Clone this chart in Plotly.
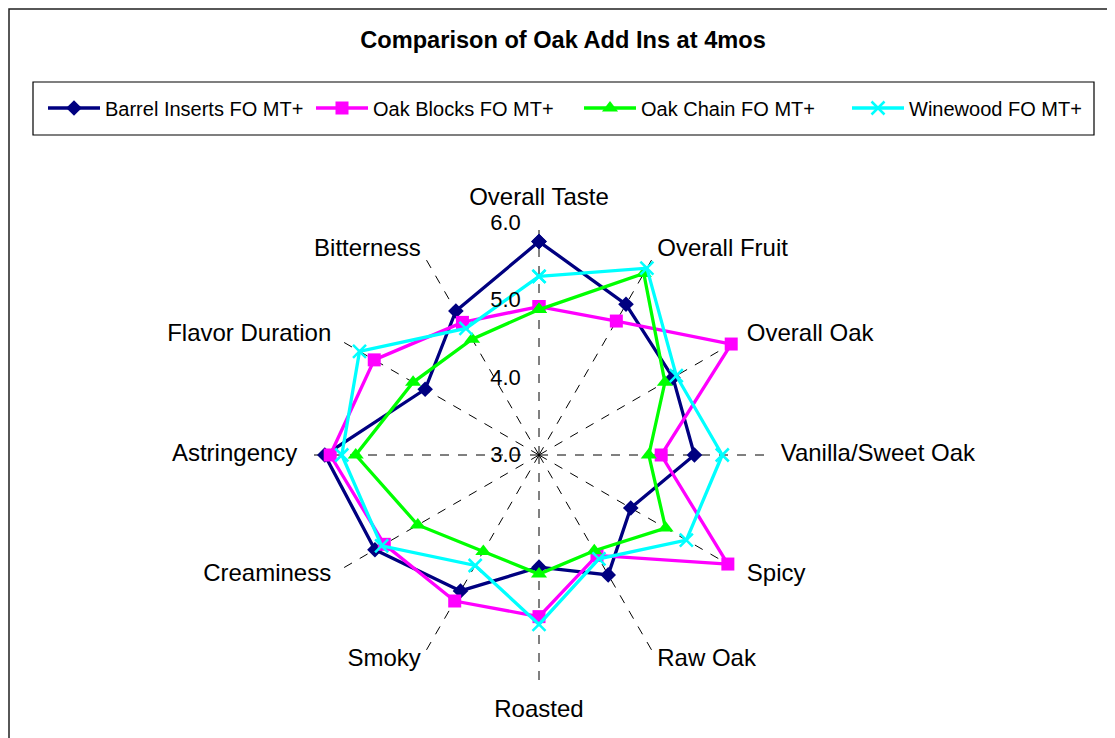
import math
import plotly.graph_objects as go

categories = ["Overall Taste", "Overall Fruit", "Overall Oak", "Vanilla/Sweet Oak",
              "Spicy", "Raw Oak", "Roasted", "Smoky", "Creaminess",
              "Astringency", "Flavor Duration", "Bitterness"]

barrel_inserts = [5.76, 5.25, 5.00, 5.01, 4.37, 4.79, 4.45, 5.03, 5.45, 5.77, 4.70, 5.15]
oak_blocks     = [4.92, 5.00, 5.87, 4.58, 5.82, 4.50, 5.09, 5.18, 5.31, 5.70, 5.46, 4.98]
oak_chain      = [4.88, 5.71, 4.88, 4.42, 4.89, 4.43, 4.54, 4.44, 4.81, 5.37, 4.88, 4.73]
winewood       = [5.31, 5.79, 5.05, 5.37, 5.20, 4.55, 5.19, 4.65, 5.35, 5.55, 5.68, 4.89]

series_names = ["Barrel Inserts FO MT+", "Oak Blocks FO MT+", "Oak Chain FO MT+", "Winewood FO MT+"]
radial_ticks = [3.0, 4.0, 5.0, 6.0]
radial_ticktext = ["3.0", "4.0", "5.0", "6.0"]

# the page body adds an 8px margin, so the figure is sized/positioned to compensate
OFF = 8
W, H = 1115 - OFF, 738 - OFF
FONT = "Arial, Liberation Sans, sans-serif"

styles = [
    dict(color="#000080", symbol="diamond", size=12, mline=0),
    dict(color="#FF00FF", symbol="square", size=13, mline=0),
    dict(color="#00FF00", symbol="triangle-up", size=14, mline=0),
    dict(color="#00FFFF", symbol="x-thin", size=13, mline=2.5),
]

fig = go.Figure()
for name, vals, st in zip(series_names, [barrel_inserts, oak_blocks, oak_chain, winewood], styles):
    fig.add_trace(go.Scatterpolar(
        r=vals + vals[:1],
        theta=categories + categories[:1],
        mode="lines+markers",
        name=name,
        subplot="polar",
        line=dict(color=st["color"], width=3.3),
        marker=dict(symbol=st["symbol"], size=st["size"], color=st["color"],
                    line=dict(color=st["color"], width=st["mline"])),
    ))

# category labels, placed just outside the outer ring like Excel does
# (drawn on a transparent overlay polar whose range reaches a bit past 6.0)
R_MAX, R_LABEL_OUT = 6.0, 6.15
n = len(categories)
label_pos, label_r = [], []
for i in range(n):
    a = 2 * math.pi * i / n
    s, c = math.sin(a), math.cos(a)
    if abs(s) < 1e-6:
        label_pos.append("top center" if c > 0 else "bottom center")
        label_r.append(6.15)
    else:
        label_pos.append("middle right" if s > 0 else "middle left")
        label_r.append(6.035 + 0.09 * s * s)

fig.add_trace(go.Scatterpolar(
    r=label_r, theta=categories, mode="text", text=categories, subplot="polar2",
    textposition=label_pos, cliponaxis=False, showlegend=False, hoverinfo="skip",
    textfont=dict(size=24, family=FONT, color="black"),
))

def px(x):
    return (x - OFF) / W

def py(y):
    return 1 - (y - OFF) / H

cx, cy, R = 539, 455, 232
R2 = R * (R_LABEL_OUT - 3) / (R_MAX - 3)
fig.update_layout(
    width=W, height=H,
    margin=dict(l=0, r=0, t=0, b=0),
    paper_bgcolor="white",
    plot_bgcolor="white",
    font=dict(family=FONT, color="black"),
    title=dict(text="<b>Comparison of Oak Add Ins at 4mos</b>",
               x=px(563), xanchor="center", y=py(40), yanchor="middle",
               font=dict(size=23.6, family=FONT, color="black")),
    polar=dict(
        domain=dict(x=[px(cx - R), px(cx + R)], y=[py(cy + R), py(cy - R)]),
        bgcolor="white",
        radialaxis=dict(range=[3, R_MAX], tickvals=radial_ticks, ticktext=radial_ticktext,
                        angle=90, tickangle=90, side="counterclockwise",
                        showgrid=False, showline=False,
                        ticks="outside", ticklen=10, tickcolor="rgba(0,0,0,0)",
                        tickfont=dict(size=22, family=FONT, color="black")),
        angularaxis=dict(rotation=90, direction="clockwise", showline=False,
                         categoryorder="array", categoryarray=categories,
                         showgrid=True, gridcolor="black", gridwidth=1, griddash="dash",
                         ticks="", showticklabels=False),
    ),
    polar2=dict(
        domain=dict(x=[px(cx - R2), px(cx + R2)], y=[py(cy + R2), py(cy - R2)]),
        bgcolor="rgba(0,0,0,0)",
        radialaxis=dict(range=[3, R_LABEL_OUT], visible=False),
        angularaxis=dict(rotation=90, direction="clockwise", visible=False,
                         categoryorder="array", categoryarray=categories),
    ),
    showlegend=True,
    legend=dict(orientation="h", x=px(56 + OFF), xanchor="left", y=py(108), yanchor="middle",
                bgcolor="rgba(0,0,0,0)", borderwidth=0, itemwidth=52,
                font=dict(size=20, family=FONT, color="black"),
                entrywidth=201, entrywidthmode="pixels"),
    shapes=[
        dict(type="rect", xref="paper", yref="paper", x0=px(OFF + 1), x1=1.02, y0=-0.02, y1=py(OFF + 1),
             line=dict(color="#202020", width=1.5), fillcolor="rgba(0,0,0,0)", layer="below"),
        dict(type="rect", xref="paper", yref="paper", x0=px(33), x1=px(1094),
             y0=py(135), y1=py(82),
             line=dict(color="black", width=1.2), fillcolor="rgba(0,0,0,0)", layer="below"),
    ],
)

fig.write_html("out.html")
